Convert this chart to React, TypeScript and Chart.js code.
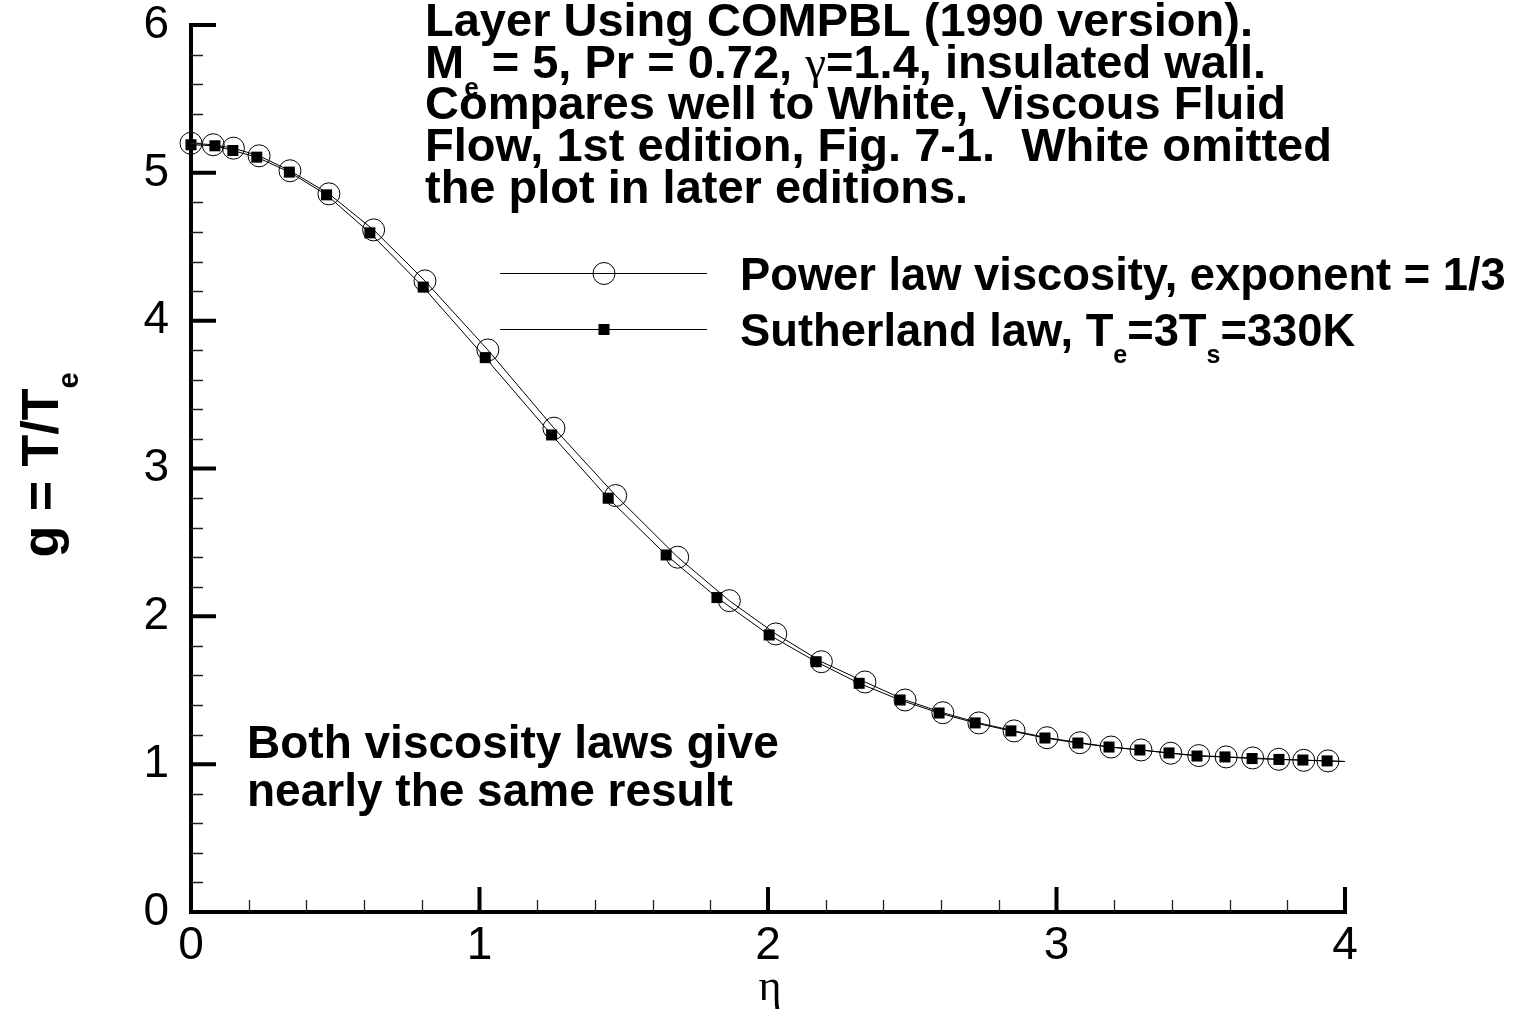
import React, { useEffect, useRef } from 'react';
import { Chart, registerables } from 'chart.js';
Chart.register(...registerables);

const SANS = '"Liberation Sans", Arial, Helvetica, sans-serif';
const SERIF = '"Liberation Serif", "DejaVu Serif", serif';

// Power law viscosity, exponent = 1/3
const etaPower = [0.0, 0.077, 0.147, 0.236, 0.343, 0.478, 0.633, 0.811, 1.029, 1.258, 1.472, 1.687, 1.866, 2.027, 2.185, 2.336, 2.475, 2.606, 2.731, 2.853, 2.967, 3.081, 3.189, 3.293, 3.396, 3.493, 3.588, 3.680, 3.770, 3.857, 3.941, 4.0];
const gPower = [5.20, 5.19, 5.167, 5.115, 5.014, 4.858, 4.614, 4.269, 3.802, 3.273, 2.817, 2.400, 2.106, 1.881, 1.693, 1.556, 1.434, 1.348, 1.279, 1.225, 1.179, 1.145, 1.116, 1.096, 1.074, 1.058, 1.049, 1.042, 1.033, 1.026, 1.022, 1.018];
const powerMarked = etaPower.map((_, i) => i < etaPower.length - 1);

// Sutherland law, Te=3Ts=330K
const etaSuth = [0.0, 0.083, 0.145, 0.228, 0.341, 0.470, 0.620, 0.805, 1.020, 1.250, 1.446, 1.647, 1.823, 2.004, 2.167, 2.316, 2.458, 2.593, 2.718, 2.842, 2.960, 3.074, 3.182, 3.289, 3.390, 3.487, 3.584, 3.678, 3.771, 3.854, 3.938, 4.0];
const gSuth = [5.19, 5.183, 5.151, 5.106, 5.005, 4.851, 4.594, 4.227, 3.750, 3.227, 2.799, 2.415, 2.127, 1.874, 1.693, 1.547, 1.434, 1.346, 1.279, 1.225, 1.177, 1.143, 1.116, 1.096, 1.076, 1.055, 1.049, 1.038, 1.032, 1.028, 1.022, 1.018];
const suthMarked = etaSuth.map((_, i) => i < etaSuth.length - 1);

const xTickValues = [0, 1, 2, 3, 4];
const yTickValues = [0, 1, 2, 3, 4, 5, 6];

type Seg = { t: string; sub?: boolean; greek?: boolean };

const titleLines: Seg[][] = [
  [{ t: 'Layer Using COMPBL (1990 version).' }],
  [{ t: 'M' }, { t: 'e', sub: true }, { t: ' = 5, Pr = 0.72, ' }, { t: 'γ', greek: true }, { t: '=1.4, insulated wall.' }],
  [{ t: 'Compares well to White, Viscous Fluid' }],
  [{ t: 'Flow, 1st edition, Fig. 7-1.  White omitted' }],
  [{ t: 'the plot in later editions.' }],
];
const legendLabels: Seg[][] = [
  [{ t: 'Power law viscosity, exponent = 1/3' }],
  [{ t: 'Sutherland law, T' }, { t: 'e', sub: true }, { t: '=3T' }, { t: 's', sub: true }, { t: '=330K' }],
];
const noteLines = ['Both viscosity laws give', 'nearly the same result'];
const yTitle: Seg[] = [{ t: 'g = T/T' }, { t: 'e', sub: true }];
const xTitle = 'η';

function segFont(s: Seg, size: number) {
  if (s.sub) return `bold ${Math.round(size * 0.56)}px ${SANS}`;
  if (s.greek) return `${Math.round(size * 1.0)}px ${SERIF}`;
  return `bold ${size}px ${SANS}`;
}
function richWidth(ctx: CanvasRenderingContext2D, segs: Seg[], size: number) {
  let w = 0;
  for (const s of segs) { ctx.font = segFont(s, size); w += ctx.measureText(s.t).width; }
  return w;
}
function drawRich(ctx: CanvasRenderingContext2D, segs: Seg[], x: number, y: number, size: number) {
  let cx = x;
  ctx.textBaseline = 'alphabetic';
  ctx.textAlign = 'left';
  for (const s of segs) {
    ctx.font = segFont(s, size);
    const dy = s.sub ? size * 0.38 : 0;
    ctx.fillText(s.t, cx, y + dy);
    cx += ctx.measureText(s.t).width;
  }
}

const decorPlugin = {
  id: 'decor',
  afterDatasetsDraw(chart: any) {
    const ctx: CanvasRenderingContext2D = chart.ctx;
    const xs = chart.scales.x;
    const ys = chart.scales.y;
    const x0 = xs.getPixelForValue(0);
    const x4 = xs.getPixelForValue(4);
    const y0 = ys.getPixelForValue(0);
    const y6 = ys.getPixelForValue(6);
    ctx.save();
    ctx.strokeStyle = '#000';
    ctx.lineCap = 'butt';
    ctx.lineWidth = 4;
    ctx.beginPath();
    ctx.moveTo(x0, y6 - 2); ctx.lineTo(x0, y0 + 2);
    ctx.moveTo(x0 - 2, y0); ctx.lineTo(x4 + 2, y0);
    ctx.stroke();
    ctx.beginPath();
    for (const v of yTickValues) { const p = ys.getPixelForValue(v); ctx.moveTo(x0, p); ctx.lineTo(x0 + 25, p); }
    for (const v of xTickValues) { const p = xs.getPixelForValue(v); ctx.moveTo(p, y0); ctx.lineTo(p, y0 - 25); }
    ctx.stroke();
    ctx.lineWidth = 1.3;
    ctx.strokeStyle = '#222';
    ctx.beginPath();
    for (let i = 1; i < 30; i++) {
      if (i % 5 === 0) continue;
      const p = Math.round(ys.getPixelForValue(i * 0.2)) + 0.5;
      ctx.moveTo(x0, p); ctx.lineTo(x0 + 12, p);
    }
    for (let i = 1; i < 20; i++) {
      if (i % 5 === 0) continue;
      const p = Math.round(xs.getPixelForValue(i * 0.2)) + 0.5;
      ctx.moveTo(p, y0); ctx.lineTo(p, y0 - 12);
    }
    ctx.stroke();
    ctx.restore();
  },
  afterDraw(chart: any) {
    const ctx: CanvasRenderingContext2D = chart.ctx;
    ctx.save();
    ctx.fillStyle = '#000';
    const tBase = [36, 78, 119, 161, 203];
    titleLines.forEach((segs, i) => drawRich(ctx, segs, 425, tBase[i], 47));
    const legY = [273, 329];
    ctx.strokeStyle = '#000';
    ctx.lineWidth = 1;
    legY.forEach((y, i) => {
      ctx.beginPath();
      ctx.moveTo(500, y + 0.5); ctx.lineTo(707, y + 0.5);
      ctx.stroke();
      if (i === 0) {
        ctx.beginPath();
        ctx.arc(604, y + 0.5, 11, 0, Math.PI * 2);
        ctx.stroke();
      } else {
        ctx.fillRect(598.5, y - 5, 11, 11);
      }
      drawRich(ctx, legendLabels[i], 740, y + 17, 45.3);
    });
    ctx.font = `bold 46px ${SANS}`;
    ctx.textAlign = 'left';
    ctx.textBaseline = 'alphabetic';
    ctx.fillText(noteLines[0], 247, 758);
    ctx.fillText(noteLines[1], 247, 806);
    ctx.font = `44px ${SERIF}`;
    ctx.textAlign = 'center';
    ctx.textBaseline = 'middle';
    ctx.fillText(xTitle, 770, 988);
    ctx.save();
    ctx.translate(58, 465);
    ctx.rotate(-Math.PI / 2);
    const w = richWidth(ctx, yTitle, 52);
    drawRich(ctx, yTitle, -w / 2, 0, 52);
    ctx.restore();
    ctx.restore();
  },
};

export default function App() {
  const ref = useRef<HTMLCanvasElement>(null);
  useEffect(() => {
    if (!ref.current) return;
    const chart = new Chart(ref.current, {
      type: 'scatter',
      data: {
        datasets: [
          {
            label: 'Sutherland law',
            data: etaSuth.map((x, i) => ({ x, y: gSuth[i] })),
            showLine: true,
            borderColor: '#000',
            borderWidth: 1,
            backgroundColor: '#000',
            pointStyle: 'rect',
            pointRadius: suthMarked.map((m) => (m ? 7.8 : 0)),
            pointBorderWidth: 0,
            pointBackgroundColor: '#000',
            tension: 0,
            clip: false,
          } as any,
          {
            label: 'Power law viscosity',
            data: etaPower.map((x, i) => ({ x, y: gPower[i] })),
            showLine: true,
            borderColor: '#000',
            borderWidth: 1,
            backgroundColor: 'rgba(0,0,0,0)',
            pointStyle: 'circle',
            pointRadius: powerMarked.map((m) => (m ? 11 : 0)),
            pointBorderWidth: 1,
            pointBorderColor: '#000',
            pointBackgroundColor: 'rgba(0,0,0,0)',
            tension: 0,
            clip: false,
          } as any,
        ],
      },
      options: {
        responsive: false,
        animation: false,
        devicePixelRatio: 1,
        layout: { padding: { top: 25, right: 177, left: 0, bottom: 0 } },
        plugins: { legend: { display: false }, tooltip: { enabled: false } },
        scales: {
          x: {
            type: 'linear',
            min: 0,
            max: 4,
            grid: { display: false },
            border: { display: false },
            ticks: {
              color: '#000',
              font: { family: SANS, size: 46, lineHeight: 1 },
              padding: 3,
              maxRotation: 0,
              autoSkip: false,
            },
            afterBuildTicks: (s: any) => { s.ticks = xTickValues.map((v) => ({ value: v })); },
            afterFit: (s: any) => { s.height = 103; s.paddingLeft = 0; s.paddingRight = 0; },
          },
          y: {
            type: 'linear',
            min: 0,
            max: 6,
            grid: { display: false },
            border: { display: false },
            ticks: {
              color: '#000',
              font: { family: SANS, size: 46, lineHeight: 1 },
              padding: 14,
              autoSkip: false,
            },
            afterBuildTicks: (s: any) => { s.ticks = yTickValues.map((v) => ({ value: v })); },
            afterFit: (s: any) => { s.width = 191; s.paddingTop = 0; s.paddingBottom = 0; },
          },
        },
      } as any,
      plugins: [decorPlugin as any],
    });
    return () => chart.destroy();
  }, []);
  return (
    <div style={{ position: 'absolute', left: 0, top: 0, width: 1522, height: 1015, background: '#fff' }}>
      <canvas ref={ref} width={1522} height={1015} style={{ display: 'block', width: 1522, height: 1015 }} />
    </div>
  );
}
